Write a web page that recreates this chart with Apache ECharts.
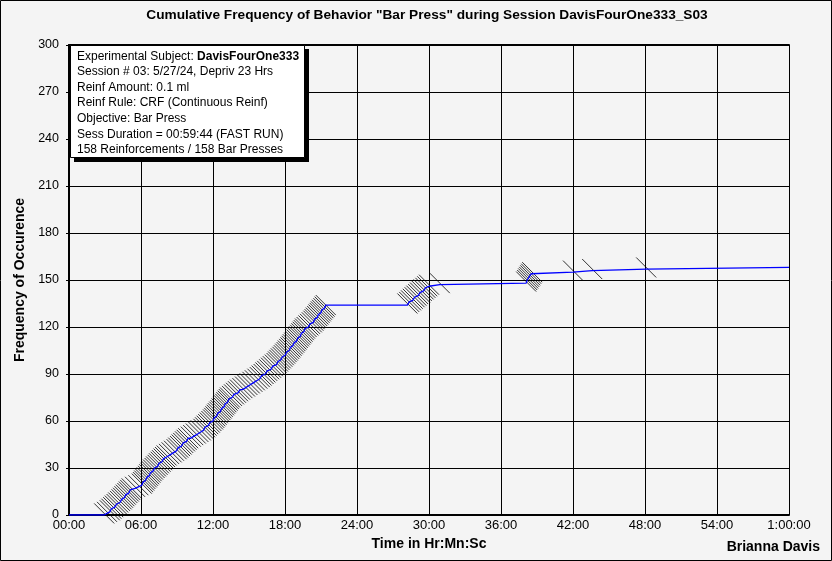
<!DOCTYPE html>
<html>
<head>
<meta charset="utf-8">
<script src="https://cdn.jsdelivr.net/npm/echarts@6/dist/echarts.min.js"></script>
<style>
  html, body { margin: 0; padding: 0; background: #f4f4f4; }
  #chart { width: 832px; height: 561px; }
</style>
</head>
<body>
<div id="chart"></div>
<script>
// time (seconds into session) of each reinforced bar press
var pressTimes = [
  176, 190, 204, 212, 221, 229, 238, 246, 255, 263,
  270, 277, 284, 292, 299, 306, 313, 330, 347, 364,
  370, 376, 382, 389, 395, 401, 407, 413, 420, 428,
  435, 443, 450, 458, 465, 473, 480, 488, 500, 513,
  525, 538, 546, 555, 563, 571, 580, 588, 596, 609,
  621, 634, 647, 659, 672, 680, 688, 696, 704, 712,
  720, 726, 732, 738, 744, 751, 757, 763, 769, 775,
  781, 787, 793, 799, 805, 815, 825, 835, 845, 855,
  867, 880, 892, 904, 917, 929, 942, 954, 963, 973,
  982, 991, 1001, 1010, 1019, 1029, 1038, 1045, 1052, 1059,
  1067, 1074, 1081, 1088, 1094, 1101, 1107, 1113, 1119, 1126,
  1132, 1138, 1144, 1150, 1156, 1162, 1168, 1174, 1180, 1188,
  1197, 1205, 1214, 1222, 1228, 1234, 1241, 1247, 1253, 1259,
  1265, 1272, 1278, 1284,
  1692, 1701, 1710, 1719, 1728, 1737, 1746, 1755, 1764, 1773,
  1782, 1791, 1800, 1854,
  2286, 2291, 2296, 2301, 2306, 2311, 2316,
  2520, 2616, 2886
];
var sessionEnd = 3600;
var xTickLabels = ['00:00', '06:00', '12:00', '18:00', '24:00', '30:00',
                   '36:00', '42:00', '48:00', '54:00', '1:00:00'];
var yTicks = [0, 30, 60, 90, 120, 150, 180, 210, 240, 270, 300];
var infoLines = [
  'Experimental Subject: {b|DavisFourOne333}',
  'Session # 03: 5/27/24, Depriv 23 Hrs',
  'Reinf Amount: 0.1 ml',
  'Reinf Rule: CRF (Continuous Reinf)',
  'Objective: Bar Press',
  'Sess Duration = 00:59:44 (FAST RUN)',
  '158 Reinforcements / 158 Bar Presses'
];

var FONT = '"Liberation Sans", Arial, sans-serif';

// cumulative step curve (flat, then a jump at each press) + hash mark points
var stepData = [[0, 0]];
var hashData = [];
pressTimes.forEach(function (t, i) {
  stepData.push([t, i]);
  stepData.push([t, i + 1]);
  hashData.push([t, i + 1]);
});
stepData.push([sessionEnd, pressTimes.length]);

var chart = echarts.init(document.getElementById('chart'));

var option = {
  backgroundColor: '#f4f4f4',
  animation: false,
  grid: { left: 69, right: 43, top: 45, bottom: 46 },
  xAxis: [
    {
      type: 'value',
      min: 0,
      max: sessionEnd,
      interval: 360,
      name: 'Time in Hr:Mn:Sc',
      nameLocation: 'middle',
      nameGap: 22,
      nameTextStyle: { fontFamily: FONT, fontSize: 14, fontWeight: 'bold', color: '#000' },
      axisLine: { show: true, lineStyle: { color: '#000', width: 2 } },
      axisTick: { show: false },
      axisLabel: {
        margin: 4,
        fontFamily: FONT, fontSize: 13, color: '#000',
        formatter: function (v) { return xTickLabels[Math.round(v / 360)]; }
      },
      splitLine: { show: true, lineStyle: { color: '#000', width: 1 } }
    },
    {
      type: 'value',
      position: 'top',
      min: 0,
      max: sessionEnd,
      axisLine: { show: true, lineStyle: { color: '#000', width: 2 } },
      axisTick: { show: false },
      axisLabel: { show: false },
      splitLine: { show: false }
    }
  ],
  yAxis: {
    type: 'value',
    min: yTicks[0],
    max: yTicks[yTicks.length - 1],
    interval: 30,
    name: 'Frequency of Occurence',
    nameLocation: 'middle',
    nameRotate: 90,
    nameGap: 41,
    nameTextStyle: { fontFamily: FONT, fontSize: 14, fontWeight: 'bold', color: '#000' },
    axisLine: { show: true, lineStyle: { color: '#000', width: 2 } },
    axisTick: { show: true, length: 3, lineStyle: { color: '#000' } },
    axisLabel: { margin: 10, fontFamily: FONT, fontSize: 12.5, color: '#000' },
    splitLine: { show: true, lineStyle: { color: '#000', width: 1 } }
  },
  series: [
    {
      type: 'custom',
      z: 2,
      data: hashData,
      renderItem: function (params, api) {
        var p = api.coord([api.value(0), api.value(1)]);
        return {
          type: 'line',
          shape: { x1: p[0] - 10, y1: p[1] - 10, x2: p[0] + 10, y2: p[1] + 10 },
          style: { stroke: '#000', lineWidth: 0.8 }
        };
      }
    },
    {
      type: 'line',
      z: 3,
      data: stepData,
      showSymbol: false,
      lineStyle: { color: '#0000ff', width: 1.3 }
    }
  ],
  graphic: [
    {
      type: 'text',
      x: 427,
      y: 8,
      style: {
        text: 'Cumulative Frequency of Behavior "Bar Press" during Session DavisFourOne333_S03',
        align: 'center',
        fontFamily: FONT, fontSize: 13.7, fontWeight: 'bold', fill: '#000'
      }
    },
    {
      type: 'text',
      right: 12,
      top: 540,
      style: { text: 'Brianna Davis', fontFamily: FONT, fontSize: 14, fontWeight: 'bold', fill: '#000' }
    },
    {
      type: 'rect',
      z: 10,
      shape: { x: 74, y: 49, width: 235, height: 113 },
      style: { fill: '#000' }
    },
    {
      type: 'rect',
      z: 11,
      shape: { x: 70.5, y: 45.5, width: 234, height: 112 },
      style: { fill: '#fff', stroke: '#000', lineWidth: 1 }
    },
    {
      type: 'text',
      z: 12,
      x: 77,
      y: 48.5,
      style: {
        text: infoLines.join('\n'),
        fontFamily: FONT, fontSize: 12, lineHeight: 15.6, fill: '#000',
        rich: {
          b: { fontFamily: FONT, fontSize: 12, fontWeight: 'bold', lineHeight: 15.6, fill: '#000' }
        }
      }
    },
    {
      type: 'rect',
      z: 20,
      shape: { x: 0.5, y: 0.5, width: 831, height: 560 },
      style: { fill: 'none', stroke: '#000', lineWidth: 1 }
    }
  ]
};

chart.setOption(option);
</script>
</body>
</html>
